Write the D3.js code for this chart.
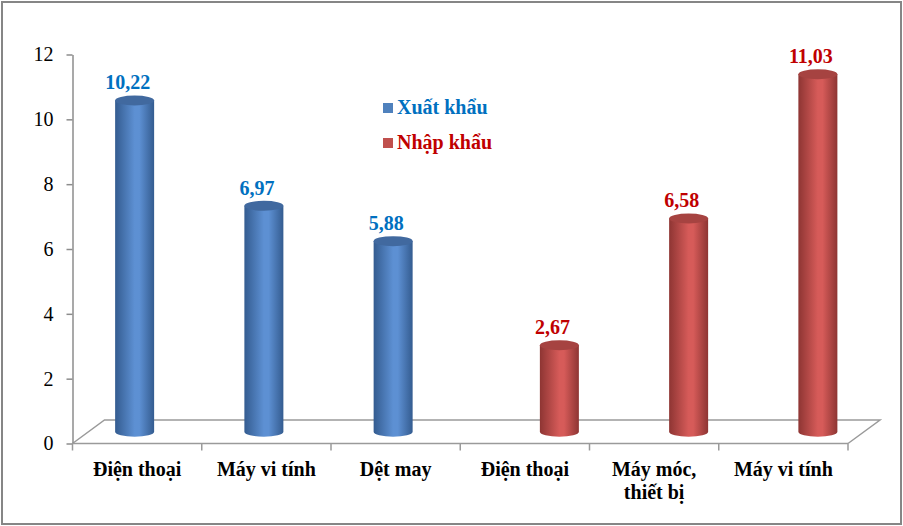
<!DOCTYPE html>
<html>
<head>
<meta charset="utf-8">
<script src="https://cdn.jsdelivr.net/npm/d3@7"></script>
<style>
  body { margin: 0; background: #fff; }
  svg { display: block; }
  svg text { font-family: "Liberation Serif", "Tinos", "DejaVu Serif", serif; }
</style>
</head>
<body>
<div id="chart"></div>
<script>
const categories = ["Điện thoại", "Máy vi tính", "Dệt may", "Điện thoại", "Máy móc,|thiết bị", "Máy vi tính"];
const seriesNames = ["Xuất khẩu", "Nhập khẩu"];
const exportValues = [10.22, 6.97, 5.88, null, null, null];
const importValues = [null, null, null, 2.67, 6.58, 11.03];
const yTicks = [0, 2, 4, 6, 8, 10, 12];

const width = 903, height = 526;
const depth = {dx: 32, dy: -23.5};
const colors = {
  "Xuất khẩu": {dark: "#345c90", light: "#5d90d3", top: "#41699f", text: "#0070c0"},
  "Nhập khẩu": {dark: "#8e3533", light: "#d65b59", top: "#a64341", text: "#c00000"}
};

const svg = d3.select("#chart").append("svg")
  .attr("width", width)
  .attr("height", height);

// outer frame
svg.append("rect")
  .attr("x", 2).attr("y", 2)
  .attr("width", 899).attr("height", 522)
  .attr("fill", "#fff")
  .attr("stroke", "#868686")
  .attr("stroke-width", 2);

const idx = d3.range(categories.length);
const x0 = d3.scaleBand().domain(idx).range([72.5, 848]);
const x1 = d3.scaleBand().domain(seriesNames).range([-37, 37]);
const y = d3.scaleLinear().domain([0, 12]).range([443.5, 54.5]);

// gradients for cylinders
const defs = svg.append("defs");
seriesNames.forEach((s, i) => {
  const g = defs.append("linearGradient").attr("id", "cyl" + i)
    .attr("x1", "0%").attr("x2", "100%").attr("y1", "0%").attr("y2", "0%");
  g.append("stop").attr("offset", "0%").attr("stop-color", colors[s].dark);
  g.append("stop").attr("offset", "50%").attr("stop-color", colors[s].light);
  g.append("stop").attr("offset", "62%").attr("stop-color", colors[s].light);
  g.append("stop").attr("offset", "100%").attr("stop-color", colors[s].dark);
});

// floor
const x0Start = x0.range()[0], x0End = x0.range()[1];
const floor = svg.append("g").attr("stroke", "#9a9a9a").attr("stroke-width", 1.5).attr("fill", "none");
floor.append("path")
  .attr("d", `M${x0Start},${y(0)} L${x0Start + depth.dx},${y(0) + depth.dy} L${x0End + depth.dx},${y(0) + depth.dy} L${x0End},${y(0)}`);

// y axis
const yAxis = svg.append("g")
  .attr("transform", `translate(${x0Start},0)`)
  .call(d3.axisLeft(y).tickValues(yTicks).tickSize(6).tickSizeOuter(0).tickPadding(13));
yAxis.attr("font-family", null);
yAxis.select(".domain").attr("stroke", "#8c8c8c").attr("stroke-width", 1.5);
yAxis.selectAll(".tick line").attr("stroke", "#8c8c8c").attr("stroke-width", 1.5);
yAxis.selectAll(".tick text")
  .attr("font-size", 20).attr("fill", "#000");

// x axis front edge + ticks between categories
const xAxis = svg.append("g").attr("stroke", "#9a9a9a").attr("stroke-width", 1.5);
xAxis.append("line")
  .attr("x1", x0Start).attr("x2", x0End)
  .attr("y1", y(0)).attr("y2", y(0));
xAxis.selectAll("line.tick")
  .data(idx.map(i => x0(i)).concat([x0End]))
  .join("line")
  .attr("class", "tick")
  .attr("x1", d => d).attr("x2", d => d)
  .attr("y1", y(0)).attr("y2", y(0) + 7);

// category labels
const catLabels = svg.append("g")
  .attr("font-size", 20).attr("font-weight", "bold")
  .attr("text-anchor", "middle").attr("fill", "#000");
catLabels.selectAll("text")
  .data(idx)
  .join("text")
  .attr("x", i => x0(i) + x0.bandwidth() / 2)
  .attr("y", 476)
  .each(function(i) {
    const lines = categories[i].split("|");
    d3.select(this).selectAll("tspan")
      .data(lines)
      .join("tspan")
      .attr("x", x0(i) + x0.bandwidth() / 2)
      .attr("dy", (d, k) => k === 0 ? 0 : 23)
      .text(d => d);
  });

// bars as cylinders
const bars = [];
seriesNames.forEach((s, si) => {
  const vals = si === 0 ? exportValues : importValues;
  vals.forEach((v, i) => {
    if (v != null) bars.push({series: s, si: si, i: i, value: v});
  });
});

const rx = 19.5, ry = 5;
const cx = d => x0(d.i) + x0.bandwidth() / 2 + depth.dx / 2 + x1(d.series) + x1.bandwidth() / 2;
const baseY = () => y(0) + depth.dy / 2;
const topY = d => y(d.value) + depth.dy / 2;

const barG = svg.append("g").selectAll("g.bar").data(bars).join("g").attr("class", "bar");

barG.append("path")
  .attr("fill", d => `url(#cyl${d.si})`)
  .attr("d", d => {
    const c = cx(d), b = baseY(), t = topY(d);
    return `M${c - rx},${t} L${c - rx},${b} A${rx},${ry} 0 0 0 ${c + rx},${b} L${c + rx},${t} Z`;
  });

barG.append("ellipse")
  .attr("cx", d => cx(d))
  .attr("cy", d => topY(d))
  .attr("rx", rx)
  .attr("ry", ry)
  .attr("fill", d => colors[d.series].top);

// data labels
svg.append("g")
  .attr("font-size", 20).attr("font-weight", "bold")
  .attr("text-anchor", "middle")
  .selectAll("text")
  .data(bars)
  .join("text")
  .attr("x", d => cx(d) - 7)
  .attr("y", d => topY(d) - ry - 6)
  .attr("fill", d => colors[d.series].text)
  .text(d => d3.format(".2f")(d.value).replace(".", ","));

// legend
const legend = svg.append("g")
  .attr("font-size", 20).attr("font-weight", "bold");
const legendItems = legend.selectAll("g")
  .data(seriesNames)
  .join("g")
  .attr("transform", (d, k) => `translate(383,${103 + k * 35})`);
legendItems.append("rect")
  .attr("width", 10).attr("height", 10)
  .attr("fill", d => d === seriesNames[0] ? "#4f81bd" : "#c0504d");
legendItems.append("text")
  .attr("x", 14).attr("y", 11)
  .attr("fill", d => colors[d].text)
  .text(d => d);
</script>
</body>
</html>
